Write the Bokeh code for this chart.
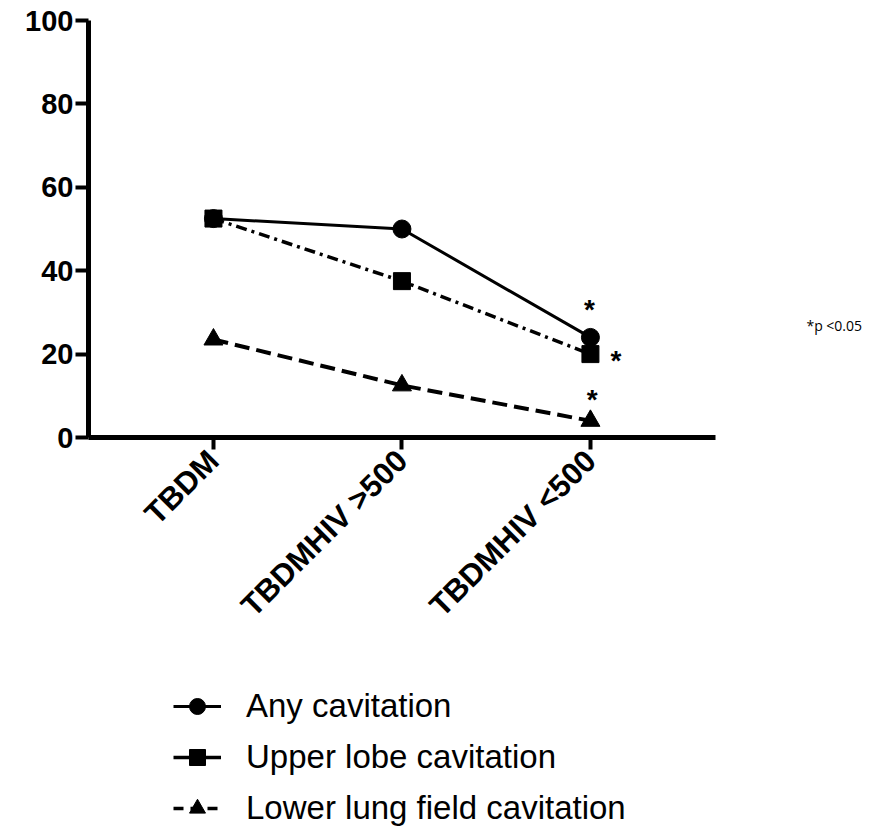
import math
from bokeh.plotting import figure
from bokeh.layouts import column
from bokeh.models import (Range1d, FixedTicker, Legend, LegendItem, Label)
from bokeh.embed import file_html
from bokeh.resources import INLINE

categories = ["TBDM", "TBDMHIV >500", "TBDMHIV <500"]
x_pos = [0, 1, 2]
any_cav = [52.5, 50.0, 24.0]
upper_lobe = [52.5, 37.5, 20.0]
lower_lung = [23.5, 12.5, 4.0]
y_ticks = [0, 20, 40, 60, 80, 100]
series_names = ["Any cavitation", "Upper lobe cavitation", "Lower lung field cavitation"]

FONT = "Liberation Sans"

p = figure(width=867, height=660, output_backend="svg", toolbar_location=None,
           x_range=Range1d(-0.663, 3.47), y_range=Range1d(0, 100),
           min_border_left=88, min_border_top=20, min_border_right=0,
           min_border_bottom=223)
p.outline_line_color = None
p.xgrid.visible = False
p.ygrid.visible = False

for ax in (p.xaxis[0], p.yaxis[0]):
    ax.axis_line_width = 5
    ax.axis_line_color = "black"
    ax.major_tick_line_width = 4
    ax.major_tick_line_color = "black"
    ax.major_tick_in = 0
    ax.minor_tick_line_color = None
    ax.major_label_text_font = FONT
    ax.major_label_text_font_style = "bold"
    ax.major_label_text_color = "black"

p.yaxis.ticker = FixedTicker(ticks=y_ticks)
p.yaxis.major_tick_out = 13
p.yaxis.major_label_standoff = 2
p.yaxis.major_label_text_font_size = "29px"

p.xaxis.ticker = FixedTicker(ticks=x_pos)
p.xaxis.bounds = (-0.663, 2.664)
p.xaxis.major_label_overrides = {x: c for x, c in zip(x_pos, categories)}
p.xaxis.major_tick_out = 12
p.xaxis.major_label_orientation = math.pi / 4
p.xaxis.major_label_standoff = 6
p.xaxis.major_label_text_font_size = "31px"

p.line(x_pos, any_cav, line_color="black", line_width=3)
p.scatter(x_pos, any_cav, marker="circle", size=18, color="black")
p.line(x_pos, upper_lobe, line_color="black", line_width=3.5, line_dash="11 5 3 5")
p.scatter(x_pos, upper_lobe, marker="square", size=17, color="black")
p.line(x_pos, lower_lung, line_color="black", line_width=4, line_dash="15 7")
p.scatter(x_pos, lower_lung, marker="triangle", size=19, color="black")

for (sx, sy) in [(1.995, 30.6), (2.135, 18.4), (2.01, 9.0)]:
    p.add_layout(Label(x=sx, y=sy, text="*", text_font=FONT, text_font_size="28px",
                       text_font_style="bold",
                       text_align="center", text_baseline="middle", text_color="black"))

p.add_layout(Label(x=3.146, y=26.9, text="*p <0.05", text_font="Open Sans",
                   text_font_size="14px", text_align="left", text_baseline="middle",
                   text_color="black"))

# legend figure
lg = figure(width=867, height=168, output_backend="svg", toolbar_location=None,
            x_range=Range1d(0, 1), y_range=Range1d(0, 1),
            x_axis_location=None, y_axis_location=None,
            min_border_left=0, min_border_right=0, min_border_top=0, min_border_bottom=0)
lg.grid.visible = False
lg.outline_line_color = None
off = [-10]
l1 = lg.line(off, off, line_color="black", line_width=3)
m1 = lg.scatter(off, off, marker="circle", size=15, color="black")
l2 = lg.line(off, off, line_color="black", line_width=3.5)
m2 = lg.scatter(off, off, marker="square", size=14, color="black")
l3 = lg.line(off, off, line_color="black", line_width=3.5, line_dash="10 7")
m3 = lg.scatter(off, off, marker="triangle", size=15, color="black")

legend = Legend(items=[
    LegendItem(label=series_names[0], renderers=[l1, m1]),
    LegendItem(label=series_names[1], renderers=[l2, m2]),
    LegendItem(label=series_names[2], renderers=[l3, m3]),
], location=(85, 0))
legend.label_text_font = FONT
legend.label_text_font_size = "33px"
legend.label_text_color = "black"
legend.glyph_width = 48
legend.glyph_height = 40
legend.label_height = 40
legend.label_standoff = 25
legend.spacing = 11
legend.padding = 0
legend.margin = 0
legend.border_line_color = None
legend.background_fill_alpha = 0
lg.add_layout(legend, "center")

layout = column(p, lg, spacing=0)
open("out.html", "w").write(file_html(layout, INLINE))
